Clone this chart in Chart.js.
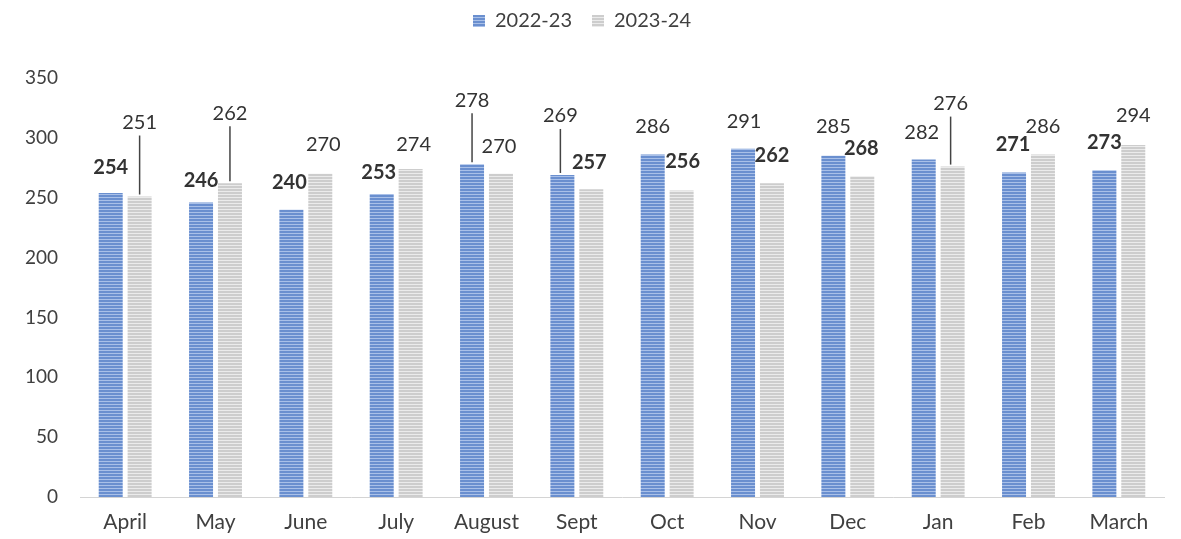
<!DOCTYPE html>
<html><head><meta charset="utf-8">
<script src="https://cdn.jsdelivr.net/npm/chart.js@4"></script>
<style>html,body{margin:0;padding:0;background:#fff}#wrap{width:1181px;height:539px;position:relative}</style>
</head><body><div id="wrap"><canvas id="c"></canvas></div>
<script>
// ---- data ----
const months = ['April','May','June','July','August','Sept','Oct','Nov','Dec','Jan','Feb','March'];
const series2022 = [254,246,240,253,278,269,286,291,285,282,271,273];
const series2023 = [251,262,270,274,270,257,256,262,268,276,286,294];
const seriesNames = ['2022-23','2023-24'];
const yMin = 0, yMax = 350, yStep = 50;

// ---- styles ----
const FONT = 'Lato, "Open Sans", "DejaVu Sans", sans-serif';
const labelStyles = [
  { dx:[0,0,-2,-3,0,-2,0,1,0,-2,-1,0],
    dy:[-25,-22,-27,-22,-64,-59,-28,-27,-29,-27,-28,-28],
    bold:[1,1,1,1,0,0,0,0,0,0,1,1],
    leader:[0,0,0,0,1,1,0,0,0,0,0,0] },
  { dx:[0,0,3,3,-2,-2,1,0,-1,-2,0,0],
    dy:[-74,-70,-29,-24,-27,-27,-29,-28,-28,-63,-28,-29],
    bold:[0,0,0,0,0,1,1,1,1,0,0,0],
    leader:[1,1,0,0,0,0,0,0,0,1,0,0] }
];

const canvas = document.getElementById('c');
const mainCtx = canvas.getContext('2d');
function stripe(base, line){
  const c = document.createElement('canvas'); c.width = 4; c.height = 3;
  const g = c.getContext('2d');
  g.fillStyle = base; g.fillRect(0,0,4,3);
  g.fillStyle = line; g.fillRect(0,2,4,1);
  return mainCtx.createPattern(c, 'repeat');
}
const bluePat = stripe('#6a8fcf', '#a9c0e8');
const greyPat = stripe('#cdcdcd', '#ebebeb');

const barLabels = {
  id: 'barLabels',
  afterDatasetsDraw(chart, args, opts) {
    const ctx = chart.ctx;
    chart.data.datasets.forEach((ds, di) => {
      const meta = chart.getDatasetMeta(di);
      const st = opts.styles[di];
      meta.data.forEach((bar, i) => {
        const x = bar.x + st.dx[i], y = bar.y + st.dy[i];
        ctx.save();
        ctx.font = (st.bold[i] ? 'bold ' : '') + opts.size + 'px ' + opts.family;
        ctx.fillStyle = opts.color;
        ctx.textAlign = 'center'; ctx.textBaseline = 'middle';
        ctx.fillText(String(ds.data[i]), x, y);
        if (st.leader[i]) {
          ctx.strokeStyle = '#444'; ctx.lineWidth = 1.5;
          ctx.beginPath(); ctx.moveTo(x, y + 13); ctx.lineTo(x, bar.y - 2); ctx.stroke();
        }
        ctx.restore();
      });
    });
  }
};
const legendSpacer = {
  id: 'legendSpacer',
  beforeLayout(chart, args, opts) {
    const lg = chart.legend;
    if (lg && !lg._spaced) {
      const f = lg.fit;
      lg.fit = function(){ f.call(this); this.height += opts.extra; };
      lg._spaced = true;
    }
  }
};

new Chart(canvas, {
  type: 'bar',
  data: {
    labels: months,
    datasets: [
      { label: seriesNames[0], data: series2022, backgroundColor: bluePat, borderWidth: 0 },
      { label: seriesNames[1], data: series2023, backgroundColor: greyPat, borderWidth: 0 }
    ]
  },
  options: {
    responsive: true, maintainAspectRatio: false, animation: false,
    categoryPercentage: 0.64, barPercentage: 0.83,
    layout: { padding: { top: -9, right: 17, bottom: 0, left: 0 } },
    plugins: {
      legend: {
        position: 'top', align: 'center',
        labels: { boxWidth: 12, boxHeight: 12, padding: 20, color: '#404040',
                  font: { family: FONT, size: 20 } }
      },
      tooltip: { enabled: false },
      legendSpacer: { extra: 37 },
      barLabels: { styles: labelStyles, size: 20, family: FONT, color: '#333' }
    },
    scales: {
      x: {
        grid: { display: false, drawTicks: false },
        border: { display: true, color: '#d4d4d4', width: 1 },
        ticks: { color: '#404040', font: { family: FONT, size: 21 }, padding: 13, maxRotation: 0 },
        afterFit(s) { s.height = 42; }
      },
      y: {
        min: yMin, max: yMax,
        grid: { display: false, drawTicks: false },
        border: { display: false },
        ticks: { stepSize: yStep, color: '#404040', font: { family: FONT, size: 19 }, padding: 22 },
        afterFit(s) { s.width = 80; }
      }
    }
  },
  plugins: [barLabels, legendSpacer]
});
</script>
</body></html>
